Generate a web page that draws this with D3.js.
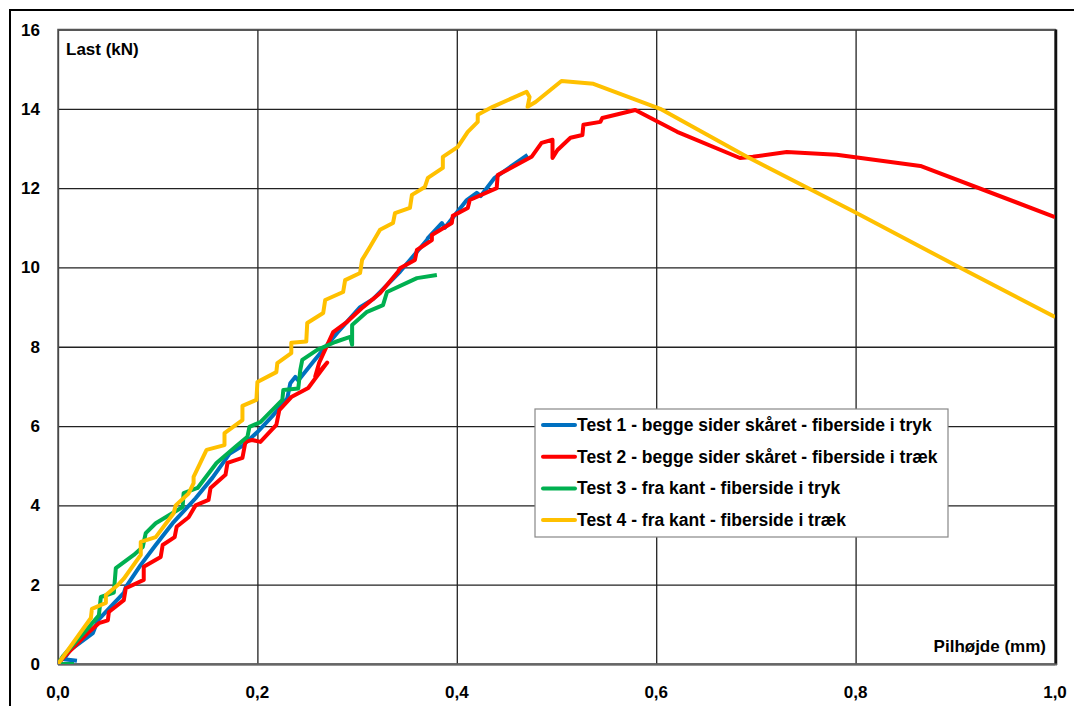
<!DOCTYPE html>
<html>
<head>
<meta charset="utf-8">
<script src="https://cdn.jsdelivr.net/npm/d3@7"></script>
<style>
  body { margin: 0; background: #fff; }
  text { font-family: "Liberation Sans", Arial, sans-serif; font-weight: bold; fill: #000; }
</style>
</head>
<body>
<svg id="chart"></svg>
<script>
// Data (x: Pilhøjde mm, y: Last kN)
const test1 = [[0.019,0.08],[0.006,0.12],[0.012,0.35],[0.035,0.78],[0.040,1.1],[0.056,1.53],[0.066,1.79],[0.068,1.94],[0.083,2.5],[0.098,3.0],[0.115,3.55],[0.138,4.18],[0.155,4.7],[0.172,5.3],[0.185,5.5],[0.200,5.85],[0.215,6.25],[0.230,6.7],[0.233,7.08],[0.238,7.24],[0.241,7.15],[0.256,7.62],[0.280,8.35],[0.303,9.0],[0.316,9.2],[0.343,9.89],[0.370,10.69],[0.371,10.74],[0.385,11.12],[0.388,11.0],[0.410,11.7],[0.420,11.88],[0.424,11.8],[0.438,12.26],[0.471,12.84]];
const test2 = [[0.0,0.0],[0.005,0.15],[0.031,0.81],[0.041,1.03],[0.050,1.1],[0.051,1.31],[0.066,1.61],[0.068,1.91],[0.086,2.12],[0.086,2.45],[0.103,2.7],[0.105,3.0],[0.117,3.2],[0.119,3.46],[0.131,3.7],[0.138,4.0],[0.151,4.14],[0.153,4.44],[0.168,4.77],[0.170,5.07],[0.185,5.2],[0.188,5.6],[0.195,5.65],[0.203,5.6],[0.219,6.03],[0.222,6.4],[0.234,6.73],[0.251,6.96],[0.258,7.2],[0.270,7.6],[0.258,7.25],[0.262,7.6],[0.276,8.37],[0.290,8.63],[0.306,9.0],[0.323,9.35],[0.341,9.89],[0.343,9.98],[0.358,10.19],[0.360,10.44],[0.375,10.69],[0.375,10.82],[0.395,11.12],[0.396,11.3],[0.411,11.5],[0.413,11.7],[0.440,12.0],[0.441,12.33],[0.475,12.79],[0.485,13.14],[0.496,13.22],[0.496,12.76],[0.501,12.96],[0.514,13.27],[0.526,13.34],[0.527,13.6],[0.544,13.67],[0.546,13.77],[0.579,13.97],[0.621,13.42],[0.684,12.76],[0.697,12.79],[0.731,12.91],[0.781,12.84],[0.865,12.56],[1.0,11.27]];
const test3 = [[0.016,0.0],[0.0,0.0],[0.005,0.2],[0.031,0.93],[0.041,1.23],[0.043,1.69],[0.056,1.8],[0.058,2.42],[0.076,2.75],[0.085,2.95],[0.088,3.3],[0.098,3.55],[0.125,3.96],[0.126,4.31],[0.140,4.44],[0.159,5.07],[0.178,5.48],[0.190,5.73],[0.192,5.98],[0.203,6.1],[0.225,6.66],[0.226,6.91],[0.241,6.95],[0.243,7.41],[0.245,7.67],[0.260,7.92],[0.278,8.12],[0.293,8.25],[0.295,8.05],[0.295,8.55],[0.310,8.88],[0.326,9.05],[0.330,9.38],[0.360,9.73],[0.380,9.81]];
const test4 = [[0.0,0.0],[0.033,1.16],[0.034,1.39],[0.048,1.54],[0.048,1.74],[0.060,1.99],[0.066,2.15],[0.083,2.75],[0.083,3.08],[0.098,3.2],[0.116,3.8],[0.118,4.0],[0.131,4.3],[0.136,4.56],[0.136,4.72],[0.149,5.40],[0.167,5.52],[0.167,5.82],[0.185,6.15],[0.185,6.51],[0.199,6.66],[0.200,7.11],[0.219,7.36],[0.220,7.59],[0.234,7.84],[0.234,8.10],[0.249,8.13],[0.250,8.60],[0.266,8.85],[0.268,9.18],[0.286,9.38],[0.288,9.68],[0.303,9.86],[0.305,10.19],[0.313,10.52],[0.323,10.95],[0.336,11.12],[0.338,11.37],[0.353,11.5],[0.355,11.83],[0.368,12.03],[0.371,12.26],[0.386,12.51],[0.386,12.79],[0.401,13.04],[0.411,13.42],[0.421,13.67],[0.421,13.85],[0.436,14.05],[0.470,14.43],[0.473,14.3],[0.471,14.05],[0.479,14.17],[0.505,14.70],[0.537,14.63],[0.604,14.0],[0.691,12.79],[0.799,11.4],[0.905,9.99],[1.0,8.75]];

const seriesNames = [
  "Test 1 - begge sider skåret - fiberside i tryk",
  "Test 2 - begge sider skåret - fiberside i træk",
  "Test 3 - fra kant - fiberside i tryk",
  "Test 4 - fra kant - fiberside i træk"
];
const seriesColors = ["#0070C0", "#FF0000", "#00B050", "#FFC000"];
const xTicks = [0, 0.2, 0.4, 0.6, 0.8, 1.0];
const yTicks = [0, 2, 4, 6, 8, 10, 12, 14, 16];
const yTitle = "Last (kN)";
const xTitle = "Pilhøjde (mm)";

const width = 1074, height = 706;
const margin = { top: 29.5, right: 19, bottom: 42, left: 58 };

const svg = d3.select("#chart")
  .attr("width", width)
  .attr("height", height);

// outer chart frame (only left and top edges visible in the crop)
svg.append("rect")
  .attr("x", 10).attr("y", 10)
  .attr("width", width).attr("height", height)
  .attr("fill", "none")
  .attr("stroke", "#000")
  .attr("stroke-width", 2);

const x = d3.scaleLinear()
  .domain([0, 1])
  .range([margin.left, width - margin.right]);

const y = d3.scaleLinear()
  .domain([0, 16])
  .range([height - margin.bottom, margin.top]);

// gridlines
svg.append("g")
  .attr("class", "grid-x")
  .attr("transform", `translate(0,${height - margin.bottom})`)
  .call(d3.axisBottom(x).tickValues(xTicks).tickSize(-(y(0) - y(16))).tickFormat(""))
  .call(g => g.select(".domain").remove())
  .call(g => g.selectAll("line").attr("stroke", "#222").attr("stroke-width", 1.3));

svg.append("g")
  .attr("class", "grid-y")
  .attr("transform", `translate(${margin.left},0)`)
  .call(d3.axisLeft(y).tickValues(yTicks).tickSize(-(x(1) - x(0))).tickFormat(""))
  .call(g => g.select(".domain").remove())
  .call(g => g.selectAll("line").attr("stroke", "#222").attr("stroke-width", 1.3));

// tick labels
svg.append("g")
  .selectAll("text")
  .data(yTicks)
  .join("text")
  .attr("x", 40)
  .attr("y", d => y(d) + 6)
  .attr("text-anchor", "end")
  .style("font-size", "17px")
  .text(d => d);

svg.append("g")
  .selectAll("text")
  .data(xTicks)
  .join("text")
  .attr("x", d => x(d))
  .attr("y", 698)
  .attr("text-anchor", "middle")
  .style("font-size", "17px")
  .text(d => d3.format(".1f")(d).replace(".", ","));

// plot area border, right edge a bit heavier like the original
svg.append("rect")
  .attr("x", x(0)).attr("y", y(16))
  .attr("width", x(1) - x(0)).attr("height", y(0) - y(16))
  .attr("fill", "none")
  .attr("stroke", "#555")
  .attr("stroke-width", 1.5);
svg.append("line")
  .attr("x1", x(1) + 1).attr("x2", x(1) + 1)
  .attr("y1", y(16)).attr("y2", y(0) + 1)
  .attr("stroke", "#111").attr("stroke-width", 2.5);
svg.append("line")
  .attr("x1", x(0)).attr("x2", x(1) + 2)
  .attr("y1", y(0) + 0.5).attr("y2", y(0) + 0.5)
  .attr("stroke", "#666").attr("stroke-width", 2);

// series lines
const line = d3.line()
  .x(d => x(d[0]))
  .y(d => y(d[1]));

svg.append("clipPath").attr("id", "plot-clip")
  .append("rect")
  .attr("x", x(0)).attr("y", y(16))
  .attr("width", x(1) - x(0)).attr("height", y(0) - y(16));

svg.append("g")
  .attr("clip-path", "url(#plot-clip)")
  .selectAll("path")
  .data([test1, test2, test3, test4])
  .join("path")
  .attr("fill", "none")
  .attr("stroke", (d, i) => seriesColors[i])
  .attr("stroke-width", 4)
  .attr("stroke-linejoin", "round")
  .attr("d", line);

// axis titles inside the plot
svg.append("text")
  .attr("x", 66)
  .attr("y", 55)
  .style("font-size", "17px")
  .text(yTitle);

svg.append("text")
  .attr("x", 1046)
  .attr("y", 652)
  .attr("text-anchor", "end")
  .style("font-size", "17px")
  .text(xTitle);

// legend
const legend = svg.append("g").attr("class", "legend");
legend.append("rect")
  .attr("x", 535).attr("y", 409)
  .attr("width", 413).attr("height", 128)
  .attr("fill", "#fff")
  .attr("stroke", "#888")
  .attr("stroke-width", 1.2);

const legendItems = legend.selectAll(".legend-item")
  .data(seriesNames)
  .join("g")
  .attr("class", "legend-item")
  .attr("transform", (d, i) => `translate(543, ${425 + i * 31.7})`);

legendItems.append("line")
  .attr("x1", 0).attr("x2", 32)
  .attr("stroke", (d, i) => seriesColors[i])
  .attr("stroke-width", 4)
  .attr("stroke-linecap", "round");

legendItems.append("text")
  .attr("x", 34)
  .attr("y", 6)
  .style("font-size", "17.5px")
  .text(d => d);
</script>
</body>
</html>
